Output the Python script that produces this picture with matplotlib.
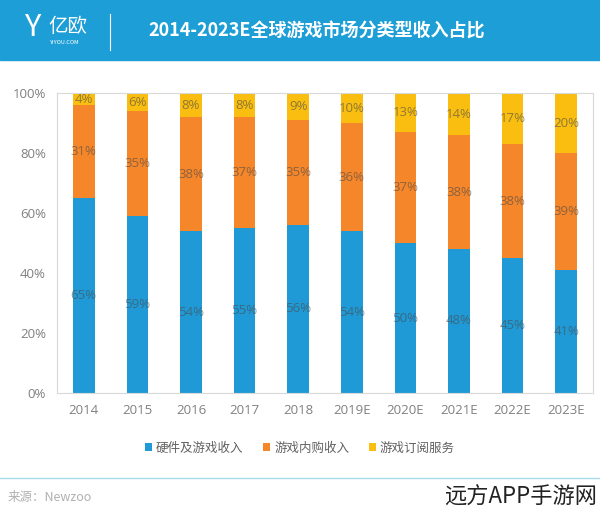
import matplotlib
matplotlib.use("Agg")
import matplotlib.pyplot as plt
from matplotlib.patches import Rectangle
import numpy as np

plt.rcParams['font.family'] = ['Noto Sans CJK SC', 'DejaVu Sans']

years = ['2014', '2015', '2016', '2017', '2018', '2019E', '2020E', '2021E', '2022E', '2023E']
hardware = [65, 59, 54, 55, 56, 54, 50, 48, 45, 41]
inapp = [31, 35, 38, 37, 35, 36, 37, 38, 38, 39]
subscription = [4, 6, 8, 8, 9, 10, 13, 14, 17, 20]
series_names = ['硬件及游戏收入', '游戏内购收入', '游戏订阅服务']
title = '2014-2023E全球游戏市场分类型收入占比'
source = '来源：Newzoo'

colors = ['#1F9AD6', '#F5862A', '#F9BE10']

fig = plt.figure(figsize=(6.0, 5.18), dpi=100)
W, H = 600, 518

# Header band
fig.patches.append(Rectangle((0, 1 - 60 / H), 1, 60 / H, transform=fig.transFigure,
                             color='#1E9ED6', zorder=0))
fig.text(148 / W, 1 - 31 / H, title, color='white', fontsize=13, fontweight='heavy',
         va='center', ha='left')
fig.text(48 / W, 1 - 26 / H, '亿欧', color='white', fontsize=14, fontweight='light',
         va='center', ha='left')
fig.text(50 / W, 1 - 43 / H, 'YIYOU.COM', color='white', fontsize=4, va='center', ha='left')
fig.text(33 / W, 1 - 28 / H, 'Y', color='white', fontsize=22, va='center', ha='center')
fig.lines.append(plt.Line2D([110 / W, 110 / W], [1 - 50 / H, 1 - 14 / H],
                            transform=fig.transFigure, color='white', lw=0.8))

ax = fig.add_axes([57 / W, 1 - 393 / H, (593 - 57) / W, (393 - 93) / H])
x = np.arange(len(years))
h = np.array(hardware)
a = np.array(inapp)
s = np.array(subscription)
bw = 0.4
ax.bar(x, h, bw, color=colors[0], label=series_names[0], zorder=2)
ax.bar(x, a, bw, bottom=h, color=colors[1], label=series_names[1], zorder=2)
ax.bar(x, s, bw, bottom=h + a, color=colors[2], label=series_names[2], zorder=2)

lab_kw = dict(ha='center', va='center', fontsize=9.5, color='#4a4a4a', alpha=0.6,
              family=['Open Sans', 'DejaVu Sans'], zorder=3)
for i in range(len(years)):
    ax.text(x[i], h[i] / 2, f'{h[i]}%', **lab_kw)
    ax.text(x[i], h[i] + a[i] / 2, f'{a[i]}%', **lab_kw)
    ax.text(x[i], h[i] + a[i] + s[i] / 2, f'{s[i]}%', **lab_kw)

ax.set_xlim(-0.5, len(years) - 0.5)
ax.set_ylim(0, 100)
ax.set_yticks(np.arange(0, 101, 20))
ax.set_yticklabels([f'{v}%' for v in range(0, 101, 20)])
ax.set_xticks(x)
ax.set_xticklabels(years)
ax.tick_params(length=0, colors='#808080', labelsize=9.5, pad=8)
for lab in ax.get_xticklabels() + ax.get_yticklabels():
    lab.set_family(['Open Sans', 'DejaVu Sans'])
for sp in ax.spines.values():
    sp.set_color('#D9D9D9')
    sp.set_linewidth(0.8)

leg = fig.legend(loc='center', bbox_to_anchor=(300 / W, 1 - 448 / H), ncol=3, frameon=False,
                 fontsize=9, handlelength=0.55, handleheight=0.55, handletextpad=0.3,
                 columnspacing=1.6, labelcolor='#606060')

# bottom line and source
fig.lines.append(plt.Line2D([0, 1], [1 - 478 / H, 1 - 478 / H], transform=fig.transFigure,
                            color='#A8DCEB', lw=1))
fig.text(8 / W, 1 - 497 / H, source, color='#B0B0B0', fontsize=9, va='center', ha='left')
fig.text(597 / W, 1 - 497 / H, '远方APP手游网', color='#222222', fontsize=16,
         fontweight='light', va='center', ha='right')

fig.savefig('out.png', dpi=100)
